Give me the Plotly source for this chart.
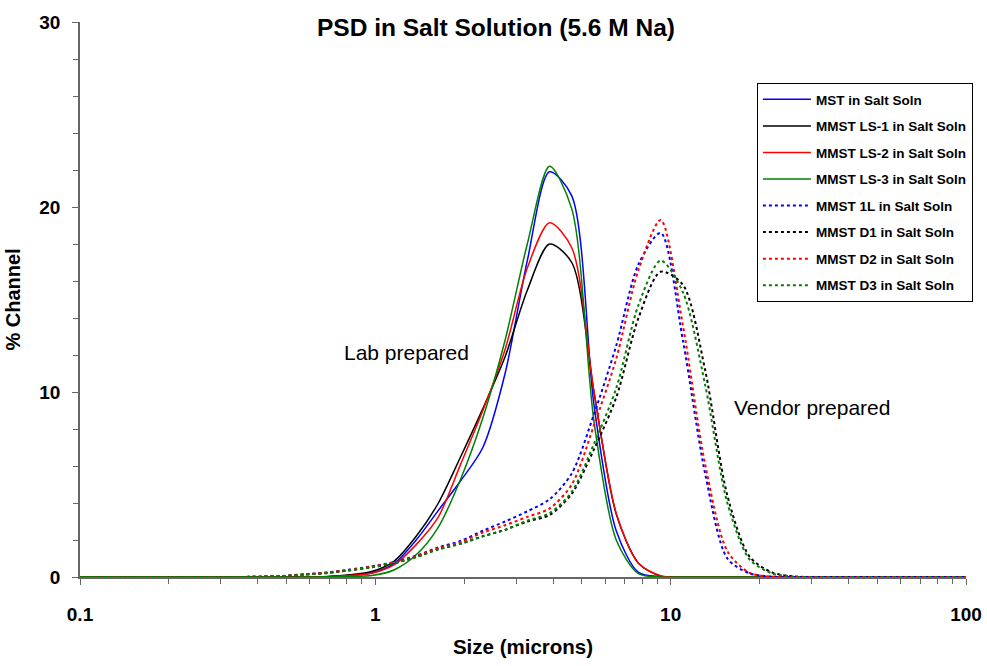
import plotly.graph_objects as go

# Microtrac channel sizes (microns)
size_um = [0.0859, 0.102, 0.122, 0.145, 0.172, 0.204, 0.243, 0.289, 0.344, 0.409,
           0.486, 0.578, 0.688, 0.818, 0.972, 1.156, 1.375, 1.635, 1.945, 2.312,
           2.750, 3.270, 3.889, 4.625, 5.500, 6.541, 7.778, 9.250, 11.00, 13.08,
           15.56, 18.50, 22.00, 26.16, 31.11, 37.00, 44.00, 52.33, 62.23, 74.00,
           88.00, 104.7, 124.5]

mst_salt = [0, 0, 0, 0, 0, 0, 0, 0, 0, 0,
            0, 0, 0.01, 0.08, 0.22, 0.72, 2.0, 3.6, 5.2, 7.0,
            11.0, 17.1, 21.9, 20.6, 9.3, 2.5, 0.25, 0.02, 0, 0,
            0, 0, 0, 0, 0, 0, 0, 0, 0, 0,
            0, 0, 0]
ls1_salt = [0, 0, 0, 0, 0, 0, 0, 0, 0, 0,
            0, 0, 0.03, 0.12, 0.3, 0.85, 2.2, 4.0, 6.5, 9.1,
            11.9, 15.5, 18.0, 17.0, 10.0, 3.4, 0.75, 0.05, 0, 0,
            0, 0, 0, 0, 0, 0, 0, 0, 0, 0,
            0, 0, 0]
ls2_salt = [0, 0, 0, 0, 0, 0, 0, 0, 0, 0,
            0, 0, 0.02, 0.08, 0.2, 0.65, 1.75, 3.25, 6.1, 9.0,
            12.3, 16.7, 19.15, 17.8, 10.0, 3.45, 0.75, 0.06, 0, 0,
            0, 0, 0, 0, 0, 0, 0, 0, 0, 0,
            0, 0, 0]
ls3_salt = [0, 0, 0, 0, 0, 0, 0, 0, 0, 0,
            0, 0, 0.01, 0.03, 0.08, 0.38, 1.2, 2.7, 5.3, 8.6,
            12.8, 18.0, 22.2, 19.9, 8.4, 2.0, 0.18, 0, 0, 0,
            0, 0, 0, 0, 0, 0, 0, 0, 0, 0,
            0, 0, 0]
l1_salt = [0, 0, 0, 0, 0, 0, 0, 0, 0, 0.02,
           0.06, 0.15, 0.25, 0.4, 0.58, 0.8, 1.15, 1.6, 1.95, 2.5,
           3.0, 3.55, 4.2, 5.6, 8.8, 12.5, 16.9, 18.6, 12.8, 5.6,
           1.0, 0.2, 0.02, 0, 0, 0, 0, 0, 0, 0,
           0, 0, 0]
d1_salt = [0, 0, 0, 0, 0, 0, 0, 0, 0, 0.02,
           0.05, 0.13, 0.22, 0.36, 0.53, 0.75, 1.08, 1.5, 1.8, 2.2,
           2.55, 3.0, 3.35, 4.5, 6.9, 9.7, 14.0, 16.5, 15.8, 11.2,
           4.4, 1.1, 0.25, 0.03, 0, 0, 0, 0, 0, 0,
           0, 0, 0]
d2_salt = [0, 0, 0, 0, 0, 0, 0, 0, 0, 0.02,
           0.05, 0.14, 0.24, 0.38, 0.56, 0.78, 1.12, 1.55, 1.9, 2.4,
           2.8, 3.25, 3.7, 5.0, 8.2, 11.8, 16.6, 19.3, 13.6, 6.1,
           1.4, 0.22, 0.02, 0, 0, 0, 0, 0, 0, 0,
           0, 0, 0]
d3_salt = [0, 0, 0, 0, 0, 0, 0, 0, 0, 0.02,
           0.05, 0.13, 0.22, 0.36, 0.53, 0.75, 1.08, 1.5, 1.8, 2.2,
           2.55, 3.05, 3.45, 4.6, 7.2, 10.2, 14.7, 17.1, 15.4, 10.4,
           4.0, 0.95, 0.2, 0.02, 0, 0, 0, 0, 0, 0,
           0, 0, 0]

series = [
    ("MST in Salt Soln", mst_salt, "#0000FF", "solid"),
    ("MMST LS-1 in Salt Soln", ls1_salt, "#000000", "solid"),
    ("MMST LS-2 in Salt Soln", ls2_salt, "#FF0000", "solid"),
    ("MMST LS-3 in Salt Soln", ls3_salt, "#008000", "solid"),
    ("MMST 1L in Salt Soln", l1_salt, "#0000FF", "dot"),
    ("MMST D1 in Salt Soln", d1_salt, "#000000", "dot"),
    ("MMST D2 in Salt Soln", d2_salt, "#FF0000", "dot"),
    ("MMST D3 in Salt Soln", d3_salt, "#008000", "dot"),
]

FONT = "Liberation Sans, Arial, sans-serif"

fig = go.Figure()
for i, (name, ys, color, style) in enumerate(series):
    dash = "solid" if style == "solid" else "3px,3px"
    width = 1.5 if style == "solid" else 2
    fig.add_trace(go.Scatter(
        x=size_um, y=ys, mode="lines", name=name, legendgroup=f"g{i}",
        line=dict(color=color, width=width, dash=dash, shape="spline", smoothing=0.8),
    ))

fig.update_layout(
    width=987, height=666,
    margin=dict(l=80, r=21, t=22, b=89),
    paper_bgcolor="white", plot_bgcolor="white",
    font=dict(family=FONT, color="black"),
    title=dict(text="<b>PSD in Salt Solution (5.6 M Na)</b>", x=0.5025, xanchor="center",
               y=0.959, yanchor="middle", font=dict(size=24.5, family=FONT, color="black")),
    showlegend=True,
    legend=dict(x=0.764, y=0.890, xanchor="left", yanchor="top",
                bordercolor="black", borderwidth=1, bgcolor="white",
                font=dict(size=13.5, family=FONT, color="black", weight="bold"),
                itemwidth=48, tracegroupgap=6, traceorder="grouped"),
    annotations=[
        dict(text="Lab prepared", xref="paper", yref="paper", x=0.368, y=0.404,
             xanchor="center", yanchor="middle",
             showarrow=False, font=dict(size=21, family=FONT, color="black")),
        dict(text="Vendor prepared", xref="paper", yref="paper", x=0.826, y=0.305,
             xanchor="center", yanchor="middle",
             showarrow=False, font=dict(size=21, family=FONT, color="black")),
    ],
)

fig.update_xaxes(
    type="log", range=[-1, 2], automargin=False,
    tickvals=[0.1, 1, 10, 100], ticktext=["<b>0.1</b>", "<b>1</b>", "<b>10</b>", "<b>100</b>"],
    ticks="outside", ticklen=6, tickcolor="#666666", tickwidth=1,
    minor=dict(ticks="outside", ticklen=5, tickcolor="#666666",
               tickvals=[0.2, 0.3, 0.4, 0.5, 0.6, 0.7, 0.8, 0.9,
                         2, 3, 4, 5, 6, 7, 8, 9,
                         20, 30, 40, 50, 60, 70, 80, 90], showgrid=False),
    showline=True, linecolor="#666666", linewidth=1.5, showgrid=False, zeroline=False,
    tickfont=dict(size=19, family=FONT, color="black"), ticklabelstandoff=13,
    title=dict(text="<b>Size (microns)</b>", font=dict(size=20.5, family=FONT, color="black"), standoff=16),
)
fig.update_yaxes(
    range=[0, 30], automargin=False,
    tickvals=[0, 10, 20, 30], ticktext=["<b>0</b>", "<b>10</b>", "<b>20</b>", "<b>30</b>"],
    ticks="outside", ticklen=6, tickcolor="#666666", tickwidth=1,
    minor=dict(ticks="outside", ticklen=5, tickcolor="#666666", dtick=2, showgrid=False),
    showline=True, linecolor="#666666", linewidth=1.5, showgrid=False, zeroline=False,
    tickfont=dict(size=19, family=FONT, color="black"), ticklabelstandoff=8,
    title=dict(text="<b>% Channel</b>", font=dict(size=20, family=FONT, color="black"), standoff=13),
)

fig.write_html("out.html")
